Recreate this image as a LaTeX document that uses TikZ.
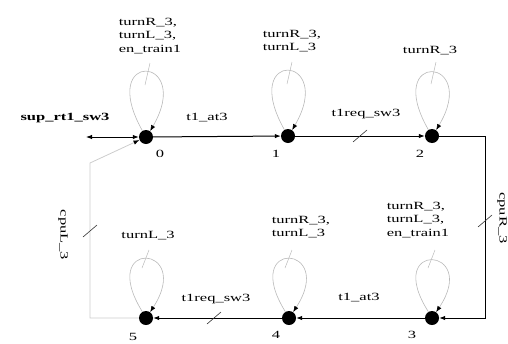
\documentclass[tikz,border=0pt]{standalone}
\usepackage{fontspec}
\setmainfont{Liberation Serif}[FakeStretch=1.5]
\usetikzlibrary{arrows.meta,calc}
\tikzset{
  state/.style={circle,fill=black,minimum size=14pt,inner sep=0pt},
  lbl/.style={inner sep=0pt,align=left},
  edge/.style={line width=1pt,-{Latex[length=6pt,width=4.5pt]}},
  loopline/.style={draw=gray!55,line width=0.6pt,-{Latex[color=black,length=6pt,width=4.5pt]}},
  grayedge/.style={draw=gray!40,line width=0.8pt,-{Latex[color=black,length=6pt,width=4.5pt]}},
  pointer/.style={draw=gray!55,line width=0.5pt},
  slash/.style={draw=gray!40!black,line width=0.6pt}
}
\begin{document}
\begin{tikzpicture}[x=1pt,y=-1pt,font=\fontsize{11}{13.5}\selectfont]
\useasboundingbox (0,0) rectangle (508,343);
% states
\node[state] (n0) at (146,137) {};
\node[state] (n1) at (288,136) {};
\node[state] (n2) at (432,136) {};
\node[state] (n3) at (432,318) {};
\node[state] (n4) at (289,318) {};
\node[state] (n5) at (146,318) {};
% state numbers
\node[lbl] (k0) at (160,154) {0};
\node[lbl] (k1) at (276,154) {1};
\node[lbl] (k2) at (420,154) {2};
\node[lbl] (k3) at (412,335) {3};
\node[lbl] (k4) at (276,335) {4};
\node[lbl] (k5) at (133,337) {5};
% self loops
\foreach \n/\h in {n0/82,n1/82,n2/80,n3/72,n4/74,n5/74}{
  \draw[loopline] (\n.120) .. controls +(-46,-\h) and +(44,-\h+6) .. (\n.55);
}
% loop labels
\node[lbl] (t0) at (150,36) {turnR\_3,\\turnL\_3,\\en\_train1};
\node[lbl] (t1) at (292,41) {turnR\_3,\\turnL\_3};
\node[lbl] (t2) at (430,51) {turnR\_3};
\node[lbl] (t3) at (418,220) {turnR\_3,\\turnL\_3,\\en\_train1};
\node[lbl] (t4) at (301,227) {turnR\_3,\\turnL\_3};
\node[lbl] (t5) at (148,236) {turnL\_3};
% label pointers
\foreach \n in {n0,n1,n2}{
  \draw[pointer] ($(\n)+(4,-74)$) -- ($(\n)+(-1,-52)$);
}
\foreach \n in {n3,n4,n5}{
  \draw[pointer] ($(\n)+(3,-68)$) -- ($(\n)+(-4,-50)$);
}
% transitions
\draw[edge] (n0) -- (n1);
\draw[edge] (n1) -- (n2);
\coordinate (c2a) at (485,136);
\coordinate (c2b) at (485,318);
\draw[edge] (n2) -- (c2a) -- (c2b) -- (n3);
\draw[edge] (n3) -- (n4);
\draw[edge] (n4) -- (n5);
\coordinate (c5a) at (90,318);
\coordinate (c5b) at (90,163);
\draw[grayedge] (n5) -- (c5a) -- (c5b) -- (n0);
\coordinate (sA) at (86,137);
\draw[line width=1pt,{Latex[length=6pt,width=4.5pt]}-{Latex[length=6pt,width=4.5pt]}] (sA) -- (n0);
% slash marks
\coordinate (s1) at (360,136);
\coordinate (s2) at (485,221);
\coordinate (s3) at (214,318);
\coordinate (s4) at (90,231);
\foreach \s in {s1,s2,s3,s4}{
  \draw[slash] ($(\s)+(-7,6)$) -- ($(\s)+(7,-6)$);
}
% transition labels
\node[lbl,font=\fontsize{11}{13.5}\selectfont\bfseries] (e0) at (65,118) {sup\_rt1\_sw3};
\node[lbl] (e1) at (207,118) {t1\_at3};
\node[lbl] (e2) at (366,114) {t1req\_sw3};
\node[lbl,rotate=-90] (e3) at (502,218) {cpuR\_3};
\node[lbl] (e4) at (359,298) {t1\_at3};
\node[lbl] (e5) at (216,299) {t1req\_sw3};
\node[lbl,rotate=-90] (e6) at (63,235) {cpuL\_3};
\end{tikzpicture}
\end{document}
